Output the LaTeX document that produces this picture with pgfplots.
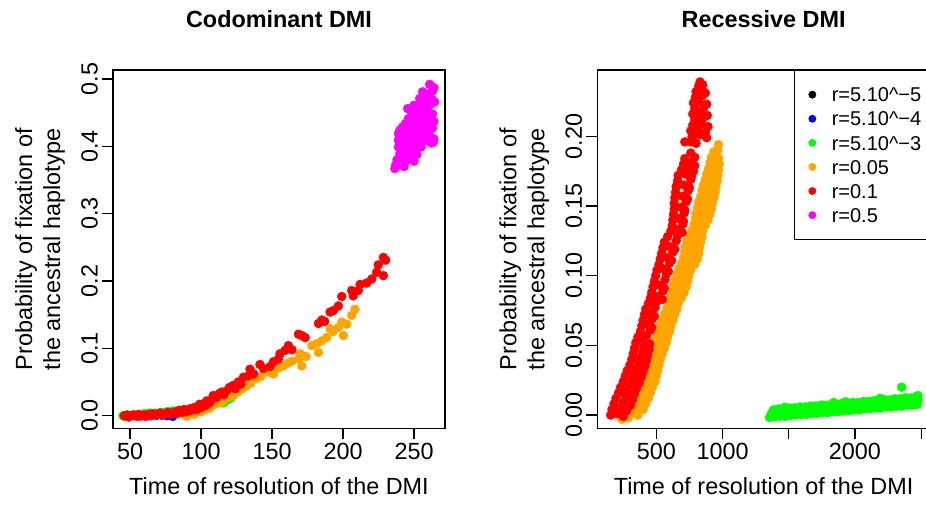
\documentclass[border=0pt]{standalone}
\usepackage{pgfplots}
\pgfplotsset{compat=1.18}
\usepackage{fontspec}
\setmainfont{Liberation Sans}

\definecolor{rblack}{HTML}{000000}
\definecolor{rblue}{HTML}{0000FF}
\definecolor{rgreen}{HTML}{00FF00}
\definecolor{rorange}{HTML}{FFA500}
\definecolor{rred}{HTML}{FF0000}
\definecolor{rmagenta}{HTML}{FF00FF}

\newcommand{\legfont}{\fontsize{20pt}{24pt}\selectfont}

\pgfplotsset{
  rbase/.style={
    scale only axis,
    axis line style={line width=1.2pt},
    every tick/.style={line width=1.2pt, black},
    tick align=outside,
    major tick length=11pt,
    tick pos=left,
    xticklabel style={anchor=north, inner sep=0pt},
    yticklabel style={rotate=90, anchor=south, inner sep=0pt},
    xticklabel shift=4pt,
    yticklabel shift=4pt,
    clip=false,
  },
  pts/.style={only marks, mark=*, mark size=4.5pt, color=#1, mark options={draw=none, fill=#1}},
}

\begin{document}
\fontsize{23.4pt}{28pt}\selectfont
\begin{tikzpicture}

% ---------------- Codominant DMI ----------------
\begin{axis}[rbase,
  at={(113pt,75.7pt)}, anchor=south west,
  width=332pt, height=358.3pt,
  xmin=38, xmax=271.8, ymin=-0.0187, ymax=0.5134,
  xtick={50,100,150,200,250},
  xticklabels={50,100,150,200,250},
  ytick={0,0.1,0.2,0.3,0.4,0.5},
  yticklabels={0.0,0.1,0.2,0.3,0.4,0.5},
]
\addplot[pts=rblack] coordinates {
(47,0.000) (52,0.001) (57,0.000) (63,0.001) (69,0.001)
};
\addplot[pts=rblue] coordinates {
(50,0.000) (58,0.000) (62,0.001) (66,0.001) (72,0.001) (76,0.000) (80,-0.001)
};
\addplot[pts=rgreen] coordinates {
(45,0.000) (46,-0.001) (48,0.001) (52,0.001) (56,0.000) (60,0.003) (64,0.004)
(68,0.004) (72,0.005) (76,0.006) (80,0.007) (84,0.008) (88,0.009) (92,0.010)
(95,0.008) (98,0.008) (101,0.010) (104,0.012) (107,0.015) (110,0.018)
(113,0.021) (116,0.019) (119,0.024) (121,0.026)
};
\addplot[pts=rorange] coordinates {
(88,0.002) (90,-0.001) (92,0.003) (95,0.002) (97,0.005) (100,0.006) (103,0.009)
(106,0.011) (108,0.015) (110,0.017) (111,0.022) (114,0.019) (116,0.024)
(118,0.026) (121,0.029) (122.7,0.030) (126,0.035) (129,0.040) (132,0.044)
(135,0.048) (139,0.055) (142,0.058) (146,0.065) (149,0.064) (151,0.062)
(152,0.069) (155,0.071) (158,0.074) (161,0.078) (164,0.081) (168.6,0.084)
(169.8,0.092) (170.9,0.074) (174,0.088) (178,0.104) (181.5,0.107) (182.7,0.094)
(185,0.111) (188.5,0.116) (190.9,0.129) (193,0.125) (196.7,0.131) (199.1,0.139)
(200.3,0.119) (202.6,0.136) (206.1,0.149) (208.4,0.158)
};
\addplot[pts=rred] coordinates {
(46,0.000) (47.6,0.000) (48,0.001) (49,-0.002) (51,0.000) (53,0.001) (55,-0.001)
(56,0.002) (57,0.000) (58,0.000) (60,0.001) (61,-0.001) (63,0.002) (65,0.000)
(66,0.003) (68,0.001) (70,0.002) (71,0.004) (73,0.001) (75,0.003) (76,0.004)
(77,0.005) (78,0.002) (80,0.004) (82,0.006) (83,0.003) (85,0.008) (87,0.005)
(88,0.009) (90,0.006) (92,0.010) (93,0.008) (95,0.012) (97,0.009) (98,0.014)
(99,0.017) (100,0.012) (101,0.017) (103,0.015) (104,0.022) (106,0.019)
(108,0.025) (108.6,0.030) (111,0.027) (113,0.033) (114.5,0.035) (116,0.031)
(118,0.037) (120,0.042) (122.7,0.045) (124,0.040) (126.2,0.050) (128,0.047)
(129.8,0.057) (133.3,0.059) (134.5,0.069) (137,0.062) (141.5,0.076) (144,0.070)
(148.6,0.073) (151,0.080) (154.4,0.084) (155.6,0.092) (159.2,0.097) (161.5,0.104)
(164,0.098) (168.6,0.121) (171,0.119) (173.3,0.116) (182.7,0.137) (185,0.142)
(187,0.140) (190.9,0.154) (193.2,0.156) (196.7,0.163) (199.1,0.177) (206.1,0.186)
(207.2,0.178) (210.8,0.186) (212,0.195) (216.6,0.197) (220.2,0.203) (223.7,0.213)
(224.8,0.224) (228.4,0.208) (228.4,0.235) (230,0.231)
};
\addplot[pts=rmagenta] coordinates {
(261,0.492) (264,0.487)
(256,0.481) (259,0.478) (263,0.482)
(254,0.471) (257,0.468) (260,0.472) (263,0.469)
(250,0.461) (253,0.458) (256,0.462) (259,0.459) (262,0.463) (264.5,0.466)
(245.5,0.456) (248,0.452)
(251,0.449) (254,0.452) (257,0.447) (260,0.451) (263,0.448)
(246,0.441) (249,0.443) (252,0.439) (255,0.442) (258,0.438) (261,0.441) (264,0.437)
(244,0.434) (250,0.436) (256,0.433) (262,0.432)
(242,0.429) (245,0.431) (248,0.428) (251,0.431) (254,0.427) (257,0.430) (260,0.428) (263,0.427)
(240,0.424) (247,0.422) (253,0.425) (259,0.423)
(239,0.419) (242,0.421) (245,0.418) (248,0.420) (251,0.417) (254,0.420) (257,0.418) (260,0.419) (264,0.411)
(243,0.414) (249,0.416) (255,0.413) (261,0.415)
(239,0.409) (242,0.411) (245,0.408) (248,0.410) (251,0.407) (254,0.410) (257,0.408) (262,0.405)
(240,0.403) (246,0.405) (252,0.402) (263.5,0.406)
(239,0.399) (242,0.397) (245,0.400) (248,0.398) (251,0.396) (255,0.399)
(244,0.394) (250,0.392)
(240,0.389) (243,0.387) (246,0.390) (249,0.386) (252,0.388)
(238,0.380) (241,0.382) (244,0.378) (248,0.381) (250,0.378)
(237,0.372) (243,0.370)
(236.5,0.367)
};
\end{axis}

% ---------------- Recessive DMI ----------------
\begin{axis}[rbase,
  at={(597.3pt,75.7pt)}, anchor=south west,
  width=332.7pt, height=358.3pt,
  xmin=54, xmax=2567, ymin=-0.0095, ymax=0.2476,
  xtick={500,1000,1500,2000,2500},
  xticklabels={500,1000,,2000,},
  ytick={0,0.05,0.1,0.15,0.2},
  yticklabels={0.00,0.05,0.10,0.15,0.20},
  legend cell align=left,
  legend style={at={(1,1)}, anchor=north east, xshift=5.9pt,
    draw=black, line width=1pt,
    inner xsep=14.2pt, inner ysep=17pt, row sep=9.8pt,
    nodes={inner sep=0pt, text height=14.3pt, text depth=0pt},
    cells={anchor=west}},
  legend image code/.code={%
    \draw[#1, mark size=3.4pt] plot coordinates {(0pt,0pt)};},
]
\addlegendimage{pts=rblack}
\addlegendentry{\legfont\hspace*{16pt}r=5.10\textasciicircum−5}
\addlegendimage{pts=rblue}
\addlegendentry{\legfont\hspace*{16pt}r=5.10\textasciicircum−4}
\addplot[pts=rgreen] coordinates {
(1355,-0.0017) (1395,-0.0012) (1435,-0.0008) (1475,-0.0009) (1515,-0.0002)
(1555,0.0001) (1595,0.0005) (1635,0.0005) (1675,0.0011) (1715,0.0012)
(1755,0.0018) (1795,0.0018) (1835,0.0025) (1875,0.0024) (1915,0.0031)
(1955,0.0031) (1995,0.0038) (2035,0.0037) (2075,0.0045) (2115,0.0044)
(2155,0.0051) (2195,0.0050) (2235,0.0058) (2275,0.0057) (2315,0.0064)
(2355,0.0063) (2395,0.0071) (2435,0.0070) (2470,0.0076)
(1370,0.0013) (1410,0.0012) (1450,0.0022) (1490,0.0019) (1530,0.0029)
(1570,0.0026) (1610,0.0035) (1650,0.0032) (1690,0.0043) (1730,0.0038)
(1770,0.0049) (1810,0.0044) (1850,0.0056) (1890,0.0050) (1930,0.0063)
(1970,0.0057) (2010,0.0069) (2050,0.0064) (2090,0.0076) (2130,0.0070)
(2170,0.0082) (2210,0.0077) (2250,0.0089) (2290,0.0083) (2330,0.0096)
(2370,0.0090) (2410,0.0102) (2450,0.0097) (2478,0.0108)
(1385,0.0038) (1425,0.0045) (1465,0.0044) (1505,0.0051) (1545,0.0052)
(1585,0.0058) (1625,0.0058) (1665,0.0065) (1705,0.0065) (1745,0.0072)
(1785,0.0071) (1825,0.0078) (1865,0.0077) (1905,0.0085) (1945,0.0084)
(1985,0.0091) (2025,0.0090) (2065,0.0098) (2105,0.0097) (2145,0.0104)
(2185,0.0103) (2225,0.0111) (2265,0.0110) (2305,0.0117) (2345,0.0118)
(2385,0.0124) (2425,0.0123) (2460,0.0130) (2475,0.0140) (2353,0.0200)
(1470,0.0055) (1840,0.0090) (1930,0.0095) (2190,0.0120)
};
\addlegendentry{\legfont\hspace*{16pt}r=5.10\textasciicircum−3}
\addplot[pts=rorange] coordinates {
(240,-0.003) (290,-0.002)
(260,0.001) (320,0.002) (360,0.000)
(290,0.005) (350,0.006) (400,0.004)
(310,0.009) (370,0.010) (420,0.008)
(330,0.013) (390,0.014) (440,0.012)
(345,0.017) (410,0.018) (455,0.016)
(365,0.021) (430,0.022) (470,0.020)
(385,0.025) (440,0.026) (490,0.024)
(400,0.029) (455,0.030) (500,0.028)
(410,0.033) (470,0.034) (510,0.032)
(425,0.037) (480,0.038) (520,0.036)
(440,0.041) (495,0.042) (530,0.040)
(455,0.045) (505,0.046) (545,0.044)
(470,0.049) (520,0.050) (560,0.048)
(485,0.053) (530,0.054) (575,0.052)
(500,0.057) (545,0.058) (585,0.056)
(515,0.061) (560,0.062) (600,0.060)
(530,0.065) (575,0.066) (610,0.064)
(550,0.069) (590,0.070) (625,0.068)
(565,0.073) (600,0.074) (640,0.072)
(580,0.077) (615,0.078) (655,0.076)
(595,0.081) (630,0.082) (665,0.080)
(610,0.085) (650,0.086) (690,0.084)
(620,0.089) (665,0.090) (710,0.088)
(630,0.093) (680,0.094) (725,0.092)
(640,0.097) (690,0.098) (735,0.096)
(655,0.101) (700,0.102) (745,0.100)
(670,0.105) (715,0.106) (760,0.104)
(690,0.109) (740,0.110) (790,0.108)
(705,0.113) (760,0.114) (810,0.112)
(715,0.117) (770,0.118) (820,0.116)
(720,0.121) (780,0.122) (825,0.120)
(730,0.125) (790,0.126) (835,0.124)
(750,0.129) (800,0.130) (845,0.128)
(770,0.133) (815,0.134) (850,0.132)
(785,0.137) (830,0.138) (870,0.136)
(795,0.141) (845,0.142) (890,0.140)
(800,0.145) (855,0.146) (905,0.144)
(810,0.149) (865,0.150) (915,0.148)
(820,0.153) (875,0.154) (925,0.152)
(835,0.157) (885,0.158) (935,0.156)
(845,0.161) (895,0.162) (945,0.160)
(855,0.165) (905,0.166) (950,0.164)
(870,0.169) (915,0.170) (960,0.168)
(880,0.173) (925,0.174) (965,0.172)
(895,0.177) (935,0.178) (970,0.176)
(905,0.181) (945,0.182) (975,0.180)
(915,0.185) (955,0.186) (970,0.184)
(935,0.189) (965,0.190)
(968,0.194)
};
\addlegendentry{\legfont\hspace*{16pt}r=0.05}
\addplot[pts=rred] coordinates {
(155,0.000) (200,0.001) (250,-0.001)
(165,0.004) (230,0.005) (275,0.003)
(180,0.008) (250,0.009) (305,0.007)
(195,0.012) (270,0.013) (320,0.011)
(215,0.016) (280,0.017) (335,0.015)
(230,0.020) (300,0.021) (350,0.019)
(250,0.024) (320,0.025) (370,0.023)
(265,0.028) (335,0.029) (385,0.027)
(280,0.032) (350,0.033) (400,0.031)
(300,0.036) (370,0.037) (415,0.035)
(315,0.040) (380,0.041) (425,0.039)
(325,0.044) (395,0.045) (435,0.043)
(335,0.048) (405,0.049) (445,0.047)
(345,0.052) (410,0.053) (450,0.051)
(360,0.056) (425,0.057)
(380,0.060) (455,0.061)
(390,0.064) (440,0.065) (465,0.063)
(400,0.068) (470,0.069)
(410,0.072) (460,0.073) (485,0.071)
(420,0.076) (490,0.077)
(440,0.080) (500,0.081)
(455,0.084) (510,0.085) (545,0.083)
(465,0.088) (550,0.089)
(475,0.092) (530,0.093) (560,0.091)
(485,0.096) (565,0.097)
(495,0.100) (575,0.101)
(505,0.104) (550,0.105) (590,0.103)
(520,0.108) (600,0.109)
(530,0.112) (580,0.113) (615,0.111)
(540,0.116) (625,0.117)
(550,0.120) (600,0.121) (640,0.119)
(560,0.124) (650,0.125)
(585,0.128) (660,0.129)
(610,0.132) (665,0.133) (695,0.131)
(620,0.136) (700,0.137)
(625,0.140) (670,0.141) (705,0.139)
(630,0.144) (710,0.145)
(635,0.148) (690,0.149) (715,0.147)
(635,0.152) (725,0.153)
(640,0.156) (700,0.157) (735,0.155)
(645,0.160) (740,0.161)
(650,0.164) (710,0.165) (750,0.163)
(660,0.168) (760,0.169)
(665,0.172) (720,0.173) (765,0.171)
(690,0.176) (740,0.177) (780,0.175)
(705,0.180) (750,0.181) (790,0.179)
(715,0.184) (790,0.185)
(760,0.188)
(715,0.196)
(760,0.196) (800,0.195)
(770,0.200) (830,0.201) (880,0.199)
(760,0.204) (810,0.205) (870,0.203)
(775,0.208) (840,0.209) (890,0.207)
(790,0.212) (850,0.213)
(775,0.216) (830,0.217) (885,0.215)
(790,0.220) (860,0.221)
(780,0.224) (820,0.225) (880,0.223)
(795,0.228) (845,0.229)
(800,0.232) (850,0.233) (870,0.231)
(820,0.236) (850,0.237)
(830,0.239)
};
\addlegendentry{\legfont\hspace*{16pt}r=0.1}
\addlegendimage{pts=rmagenta}
\addlegendentry{\legfont\hspace*{16pt}r=0.5}
\end{axis}

% titles and axis labels
\node[anchor=base, font=\bfseries] at (279pt,476pt) {Codominant DMI};
\node[anchor=base, font=\bfseries] at (763.6pt,476pt) {Recessive DMI};
\node[anchor=base] at (279pt,9.7pt) {Time of resolution of the DMI};
\node[anchor=base] at (763.6pt,9.7pt) {Time of resolution of the DMI};
\node[rotate=90, anchor=north, inner sep=0pt, align=center] at (15pt,254.8pt)
  {Probability of fixation of\\the ancestral haplotype};
\node[rotate=90, anchor=north, inner sep=0pt, align=center] at (499.3pt,254.8pt)
  {Probability of fixation of\\the ancestral haplotype};

\pgfresetboundingbox
\path[use as bounding box] (0pt,0pt) rectangle (926pt,504pt);
\end{tikzpicture}
\end{document}
